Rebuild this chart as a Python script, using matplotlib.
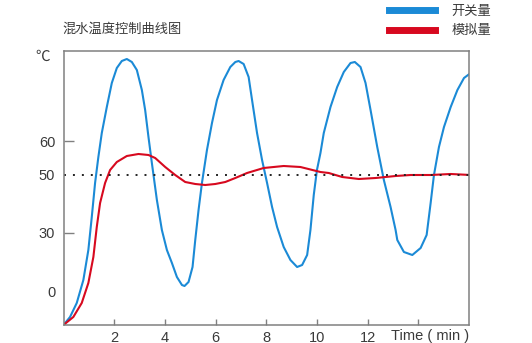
import matplotlib.pyplot as plt
from matplotlib.lines import Line2D

plt.rcParams['font.family'] = ['Liberation Sans', 'Noto Sans CJK SC', 'DejaVu Sans']

# time in minutes, level = position on the (schematic) temperature axis
switch_t = [0, 0.257, 0.522, 0.783, 0.98, 1.115, 1.245, 1.375, 1.51, 1.708, 1.905, 2.103,
            2.3, 2.498, 2.696, 2.893, 3.091, 3.221, 3.352, 3.486, 3.684, 3.881, 4.079,
            4.277, 4.474, 4.672, 4.775, 4.933, 5.091, 5.198, 5.328, 5.462, 5.66, 5.858,
            6.055, 6.316, 6.581, 6.779, 6.909, 7.107, 7.304, 7.439, 7.636, 7.834, 8.032,
            8.229, 8.427, 8.688, 8.953, 9.217, 9.415, 9.613, 9.743, 9.874, 10.0, 10.138,
            10.269, 10.534, 10.798, 11.059, 11.324, 11.494, 11.719, 11.917, 12.115,
            12.379, 12.64, 12.905, 13.103, 13.17, 13.431, 13.763, 14.091, 14.328, 14.486,
            14.617, 14.814, 15.012, 15.277, 15.542, 15.802, 16.067]
switch_v = [0, 8, 22, 45, 75, 108, 142, 168, 192, 218, 242, 257,
            264, 266, 263, 255, 235, 215, 188, 162, 125, 95, 75,
            62, 48, 40, 39, 43, 58, 85, 115, 142, 175, 202,
            225, 245, 258, 263, 264, 261, 248, 225, 192, 165, 142,
            118, 98, 78, 65, 58, 60, 70, 95, 130, 155, 172,
            192, 218, 238, 253, 262, 263, 258, 242, 215,
            178, 145, 118, 95, 85, 73, 70, 77, 90, 122,
            150, 178, 198, 218, 235, 247, 252]

analog_t = [0, 0.387, 0.719, 0.98, 1.178, 1.312, 1.443, 1.64, 1.838, 2.103, 2.498, 2.957,
            3.352, 3.617, 4.012, 4.407, 4.802, 5.198, 5.593, 5.988, 6.383, 6.779, 7.241,
            7.897, 8.688, 9.348, 10.138, 10.466, 10.996, 11.652, 12.312, 13.103, 13.696,
            14.486, 15.277, 16.067]
analog_v = [0, 8, 22, 42, 68, 98, 122, 142, 155, 163, 169, 171,
            170, 167, 158, 150, 143, 141, 140, 141, 143, 147, 152,
            157, 159, 158, 153, 152, 148, 146, 147, 149, 150,
            150, 151, 150]

setpoint = 150
xtick_pos = [2, 4, 6, 8, 10, 12, 14]
xtick_lab = ['2', '4', '6', '8', '10', '12', '']

blue = '#1b8ad6'
red = '#d7091f'
grey = '#808080'
txt = '#3a3a3a'

fig = plt.figure(figsize=(5.32, 3.43), dpi=100)
ax = fig.add_axes([0.1194, 0.0525, 0.7622, 0.7988])

ax.plot(switch_t, switch_v, color=blue, lw=1.5)
ax.plot(analog_t, analog_v, color=red, lw=1.5)
ax.axhline(setpoint, color='#222222', lw=1.4, linestyle=(0, (1, 3.6)))

ax.set_xlim(0, 16)
ax.set_ylim(0, 274)

ax.set_xticks(xtick_pos)
ax.set_xticklabels(xtick_lab)
ax.set_yticks([92, 184])
ax.set_yticklabels(['30', '60'])
ax.set_yticks([33, 150], minor=True)
ax.set_yticklabels(['0', '50'], minor=True)

ax.tick_params(axis='x', direction='in', length=4.5, width=1, color=grey,
               labelsize=10.5, labelcolor=txt, pad=4)
ax.tick_params(axis='y', which='major', direction='in', length=7.5, width=1, color=grey,
               labelsize=10.5, labelcolor=txt, pad=6)
ax.tick_params(axis='y', which='minor', length=0, labelsize=10.5, labelcolor=txt, pad=6)

for s in ax.spines.values():
    s.set_color(grey)
    s.set_linewidth(1.1)

ax.text(16, -11, 'Time ( min )', ha='right', va='center', fontsize=10.5, color=txt)
fig.text(0.066, 0.833, '℃', ha='left', va='center', fontsize=10.5, color=txt)
fig.text(0.118, 0.915, '混水温度控制曲线图', ha='left', va='center', fontsize=9.5, color=txt)

handles = [Line2D([], [], color=blue, lw=5), Line2D([], [], color=red, lw=5)]
fig.legend(handles, ['开关量', '模拟量'], loc='upper right', bbox_to_anchor=(0.945, 1.018),
           frameon=False, handlelength=3.5, fontsize=9.5, labelcolor=txt,
           handletextpad=1.2, labelspacing=0.55)

fig.savefig('out.png', dpi=100)
